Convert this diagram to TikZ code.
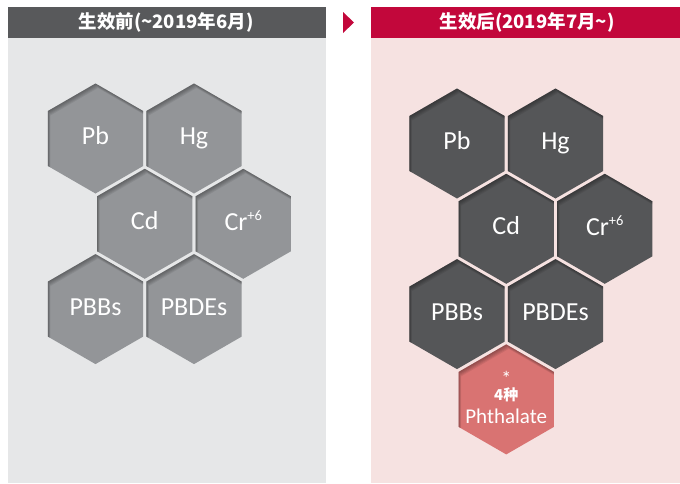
\documentclass[tikz,border=0pt]{standalone}
\usepackage{fontspec}
\setmainfont{Carlito}
\newfontfamily\cjk{Noto Sans CJK SC}
\definecolor{lefthead}{HTML}{58595B}
\definecolor{leftbg}{HTML}{E6E7E8}
\definecolor{lefthex}{HTML}{939598}
\definecolor{righthead}{HTML}{C2073B}
\definecolor{rightbg}{HTML}{F6E2E1}
\definecolor{righthex}{HTML}{555658}
\definecolor{redhex}{HTML}{D97372}
% #1 name, #2 cx, #3 cy, #4 colour, #5 text, #6 baseline offset below centre
\newcommand\hexcell[6]{%
  \begin{scope}
    \clip (#2,#3) +(90:55) -- +(150:55) -- +(210:55) -- +(270:55) -- +(330:55) -- +(30:55) -- cycle;
    \fill[#4] (#2,#3) circle (60);
    \foreach \sx/\sy in {0.5/0.9,1/1.8,1.5/2.7,2/3.6,2.5/4.5}{
      \fill[black, opacity=0.07, even odd rule]
        (#2,#3) circle (70)
        [shift={(\sx,\sy)}] (#2,#3) +(90:55) -- +(150:55) -- +(210:55) -- +(270:55) -- +(330:55) -- +(30:55) -- cycle;
    }
  \end{scope}
  \node[hexlabel, yshift=-#6pt] (#1) at (#2,#3) {#5};
}
\newcommand\crsix{Cr\raisebox{10pt}{\fontsize{14.5}{14.5}\selectfont +6}}
\begin{document}
\begin{tikzpicture}[x=1pt,y=-1pt,
  hexlabel/.style={text=white,font=\fontsize{26}{28}\selectfont,inner sep=0pt,anchor=base},
  smalllabel/.style={text=white,inner sep=0pt,anchor=base},
  headtext/.style={text=white,font=\cjk\bfseries\fontsize{18.5}{22}\selectfont,inner sep=0pt}]
\useasboundingbox (0,0) rectangle (680,483);
% left panel
\fill[leftbg] (8,38) rectangle (326,483);
\fill[lefthead] (8,7) rectangle (326,38);
\node[headtext] (lh) at (166,22.5) {生效前(\string~2019年6月)};
% right panel
\fill[rightbg] (371,38) rectangle (680,483);
\fill[righthead] (371,7) rectangle (680,38);
\node[headtext] (rh) at (527,22.5) {生效后(2019年7月\string~)};
% arrow
\fill[righthead] (343,12) -- (354,22.5) -- (343,33) -- cycle;
% left hexes
\hexcell{lpb}{95.5}{138.5}{lefthex}{Pb}{5.9}
\hexcell{lhg}{194}{138.5}{lefthex}{Hg}{5.9}
\hexcell{lcd}{144.75}{223.8}{lefthex}{Cd}{5.9}
\hexcell{lcr}{243.25}{223.8}{lefthex}{\crsix}{7}
\hexcell{lpbb}{95.5}{309.1}{lefthex}{PBBs}{5.9}
\hexcell{lpbde}{194}{309.1}{lefthex}{PBDEs}{5.9}
% right hexes
\hexcell{rpb}{457}{143.5}{righthex}{Pb}{5.9}
\hexcell{rhg}{555.5}{143.5}{righthex}{Hg}{5.9}
\hexcell{rcd}{506.25}{228.8}{righthex}{Cd}{5.9}
\hexcell{rcr}{604.75}{228.8}{righthex}{\crsix}{7}
\hexcell{rpbb}{457}{314.1}{righthex}{PBBs}{5.9}
\hexcell{rpbde}{555.5}{314.1}{righthex}{PBDEs}{5.9}
\hexcell{rph}{506.25}{399.4}{redhex}{\fontsize{21}{22}\selectfont Phthalate}{23.9}
\node[smalllabel, font=\fontsize{20}{21}\selectfont, text height=13pt, text depth=0pt] (rphstar) at (506.25,385) {*};
\node[smalllabel, font=\cjk\bfseries\fontsize{15}{16}\selectfont, text height=10.5pt, text depth=0pt] (rphfour) at (506.25,400.7) {4种};
\end{tikzpicture}
\end{document}
